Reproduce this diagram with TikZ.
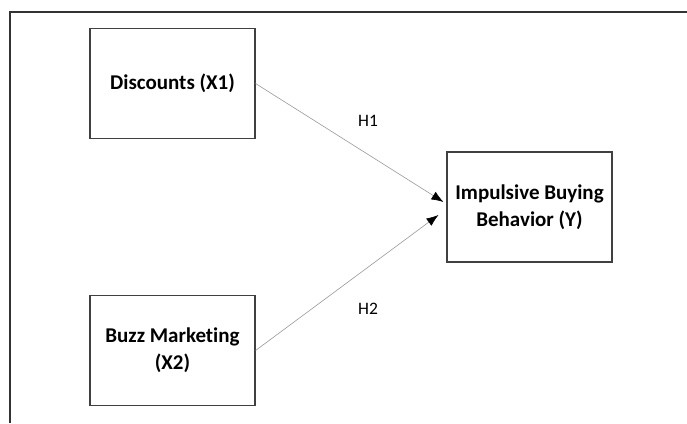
\documentclass[tikz,border=0pt]{standalone}
\usepackage{fontspec}
\setmainfont{Carlito}[Ligatures=NoCommon]
\usepackage{tikz}
\usetikzlibrary{positioning, arrows.meta, calc}

\begin{document}
\begin{tikzpicture}[x=1pt, y=-1pt,
	box/.style={draw=black!75, line width=1.1pt, minimum width=165pt, minimum height=110pt, align=center, font=\fontsize{21}{27}\selectfont\bfseries},
	hyp/.style={draw=black!40, line width=0.6pt, -{Latex[length=12pt, width=9pt, fill=black, black]}},
	lbl/.style={font=\fontsize{17.5}{20}\selectfont}]
		
		\useasboundingbox (0,0) rectangle (687,423);
		
		% outer frame
		\draw[black!80, line width=1.2pt] (687,12) -- (10,12) -- (10,423);
		
		\node[box] (disc) at (172.5,83.5) {Discounts (X1)};
		\node[box] (buzz) at (172.5,350.5) {Buzz Marketing\\(X2)};
		\node[box] (impb) at (529.5,207) {Impulsive Buying\\Behavior (Y)};
		
		\coordinate (endA) at ([xshift=-3pt, yshift=5pt]impb.west);
		\coordinate (endB) at ([xshift=-8pt, yshift=-8pt]impb.west);
		
		\draw[hyp] (disc.east) -- (endA);
		\draw[hyp] (buzz.east) -- (endB);
		
		\node[lbl] (hA) at (368,121) {H1};
		\node[lbl] (hB) at (368,309) {H2};
		
		\end{tikzpicture}
\end{document}
